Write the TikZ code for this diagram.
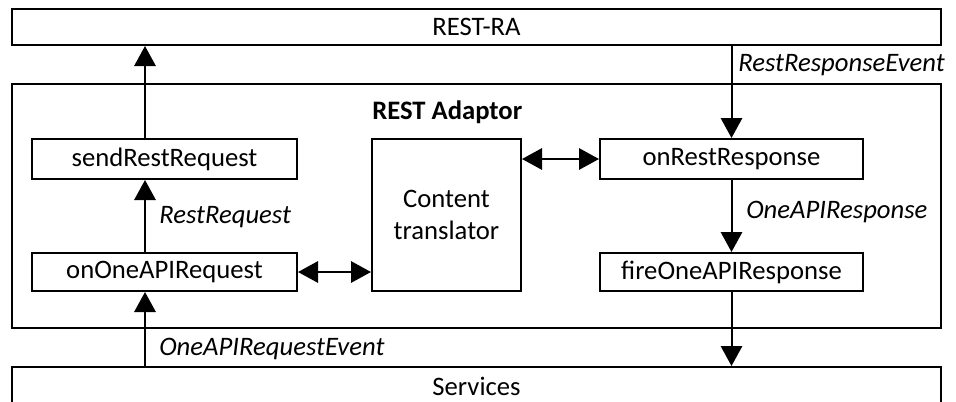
\documentclass[tikz,border=0pt]{standalone}
\usepackage{fontspec}
\setmainfont{Carlito}
\usetikzlibrary{arrows.meta}

\tikzset{
  block/.style={draw, line width=1.5pt, inner sep=0pt, font=\fontsize{20}{24}\selectfont},
  flow/.style={line width=1.5pt, -{Triangle[length=15pt,width=16pt]}},
  bothflow/.style={line width=1.5pt, {Triangle[length=15pt,width=16pt]}-{Triangle[length=15pt,width=16pt]}},
  lbl/.style={inner sep=0pt, anchor=west, font=\fontsize{20}{24}\selectfont\itshape},
}

\begin{document}
\begin{tikzpicture}[x=0.75pt,y=-0.75pt]
  \useasboundingbox (0,0) rectangle (956,401);
  \clip (0,0) rectangle (956,401);

  % outer layers
  \node[block, minimum width=696.75pt, minimum height=27pt] (ra) at (476.5,27) {REST-RA};
  \node[block, minimum width=696.75pt, minimum height=183pt] (adaptor) at (476.5,206) {};
  \node[block, minimum width=696.75pt, minimum height=28.5pt] (svc) at (476.5,386) {Services};
  \node[inner sep=0pt, anchor=west, font=\fontsize{20}{24}\selectfont\bfseries] (title) at (372,112) {REST Adaptor};

  % adaptor parts
  \node[block, minimum width=198.75pt, minimum height=30pt] (send) at (164.5,159) {sendRestRequest};
  \node[block, minimum width=198.75pt, minimum height=28.5pt] (req) at (164.5,272) {onOneAPIRequest};
  \node[block, minimum width=111.75pt, minimum height=114pt, align=center] (trans) at (446.5,215) {Content\\translator};
  \node[block, minimum width=197.25pt, minimum height=30pt] (resp) at (731.5,159) {onRestResponse};
  \node[block, minimum width=197.25pt, minimum height=28.5pt] (fire) at (731.5,272) {fireOneAPIResponse};

  \coordinate (lx) at (145,0);

  % request path
  \draw[flow] (svc.north -| lx) -- (req.south -| lx);
  \draw[flow] (req.north -| lx) -- (send.south -| lx);
  \draw[flow] (send.north -| lx) -- (ra.south -| lx);

  % response path
  \draw[flow] (ra.south -| resp.north) -- (resp.north);
  \draw[flow] (resp) -- (fire);
  \draw[flow] (fire.south) -- (svc.north -| fire.south);

  % translator links
  \draw[bothflow] (trans.east |- resp) -- (resp.west);
  \draw[bothflow] (req.east) -- (trans.west |- req);

  % event labels
  \node[lbl] (l1) at (738,65) {RestResponseEvent};
  \node[lbl] (l2) at (159,217) {RestRequest};
  \node[lbl] (l3) at (746,212) {OneAPIResponse};
  \node[lbl] (l4) at (159,349) {OneAPIRequestEvent};
\end{tikzpicture}
\end{document}
